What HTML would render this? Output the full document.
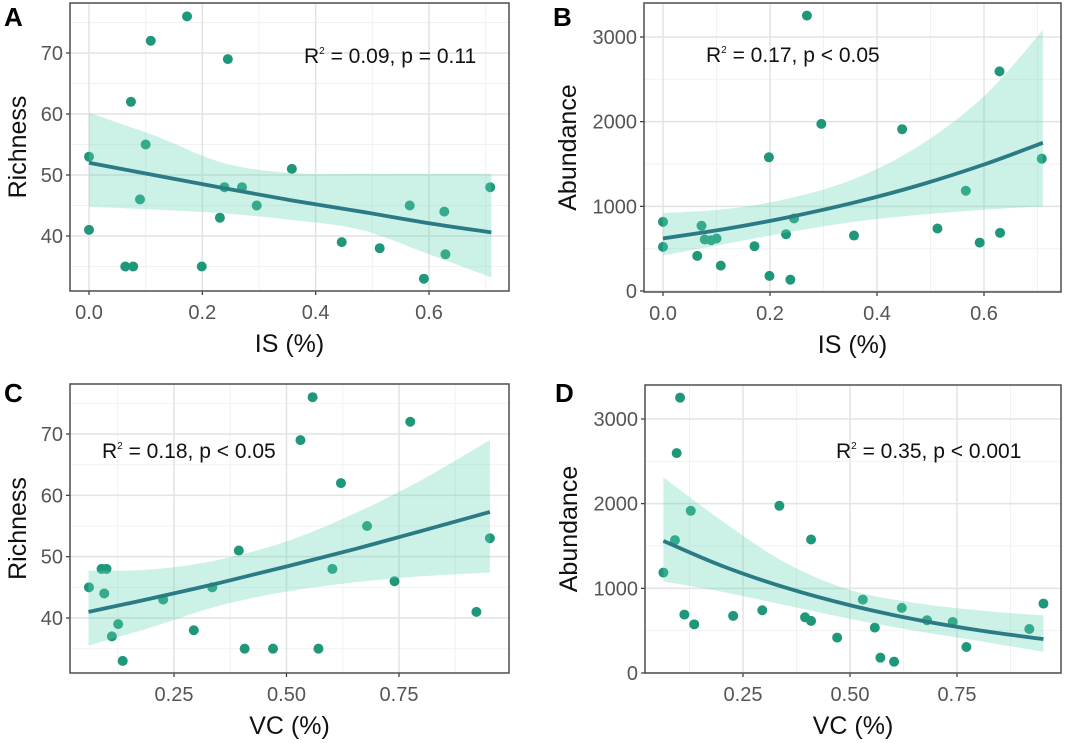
<!DOCTYPE html>
<html><head><meta charset="utf-8"><style>
html,body{margin:0;padding:0;background:#fff;width:1080px;height:743px;overflow:hidden}
svg{display:block;font-family:"Liberation Sans",Arial,sans-serif}
</style></head><body>
<svg id="fig" width="1080" height="743" viewBox="0 0 1080 743"></svg>
<script>
// ---- Panel A data (IS vs Richness)
const aX=[0,0,0.064,0.078,0.074,0.09,0.1,0.109,0.173,0.199,0.231,0.239,0.245,0.27,0.296,0.358,0.446,0.513,0.566,0.591,0.627,0.629,0.708];
const aY=[53,41,35,35,62,46,55,72,76,35,43,48,69,48,45,51,39,38,45,33,44,37,48];
const aFitX=[0,0.12,0.24,0.36,0.48,0.6,0.71];
const aFitY=[52,49.9,47.8,45.8,44.0,42.1,40.6];
const aLo=[44.8,44.3,43.7,42.6,41,37,33.2];
const aHi=[60.2,56.3,51.9,50.3,50.2,50.2,50.2];
// ---- Panel B data (IS vs Abundance)
const bX=[0,0,0.064,0.072,0.078,0.09,0.1,0.108,0.171,0.198,0.199,0.23,0.238,0.245,0.269,0.296,0.357,0.447,0.513,0.566,0.592,0.629,0.63,0.708];
const bY=[817,521,415,770,608,600,620,300,529,1579,178,671,134,857,3253,1974,655,1911,738,1184,572,2594,687,1563];
const bFitX=[0,0.12,0.24,0.36,0.48,0.6,0.71];
const bFitY=[620,736,879,1049,1252,1494,1750];
const bLo=[420,560,700,820,900,960,1000];
const bHi=[920,970,1100,1330,1720,2300,3080];
// ---- Panel C data (VC vs Richness)
const cX=[0.061,0.089,0.1,0.095,0.126,0.112,0.136,0.226,0.294,0.335,0.394,0.407,0.47,0.531,0.558,0.571,0.602,0.621,0.679,0.74,0.775,0.922,0.952];
const cY=[45,48,48,44,39,37,33,43,38,45,51,35,35,69,76,35,48,62,55,46,72,41,53];
const cFitX=[0.06,0.2,0.35,0.5,0.65,0.8,0.952];
const cFitY=[41,43.2,45.7,48.4,51.2,54.2,57.3];
const cLo=[35.5,38.5,42,44.3,45.8,46.8,47.4];
const cHi=[47.7,47.9,49.5,52.5,57,62.5,69];
// ---- Panel D data (VC vs Abundance)
const dX=[0.064,0.091,0.095,0.103,0.128,0.113,0.136,0.227,0.295,0.335,0.395,0.409,0.409,0.47,0.53,0.558,0.571,0.603,0.621,0.68,0.74,0.772,0.919,0.952];
const dY=[1186,1569,2597,3252,1916,690,575,674,741,1975,658,615,1577,418,867,536,181,134,769,623,603,307,520,820];
const dFitX=[0.064,0.2,0.35,0.5,0.65,0.8,0.952];
const dFitY=[1560,1267,1007,800,635,505,400];
const dLo=[1080,960,800,640,500,380,250];
const dHi=[2310,1800,1300,980,830,740,680];
// ---- Tick labels
const isTicks=[0,0.2,0.4,0.6], isTickLabels=["0.0","0.2","0.4","0.6"];
const vcTicks=[0.25,0.5,0.75], vcTickLabels=["0.25","0.50","0.75"];
const richTicks=[40,50,60,70], richTickLabels=["40","50","60","70"];
const abTicks=[0,1000,2000,3000], abTickLabels=["0","1000","2000","3000"];

const NS="http://www.w3.org/2000/svg";
const svg=document.getElementById('fig');
function mk(tag,attrs,parent){const e=document.createElementNS(NS,tag);for(const k in attrs)e.setAttribute(k,attrs[k]);(parent||svg).appendChild(e);return e;}
function lin(d0,d1,r0,r1){return v=>r0+(v-d0)*(r1-r0)/(d1-d0);}
function smooth(pts){let d="M"+pts[0][0]+","+pts[0][1];for(let i=0;i<pts.length-1;i++){const p0=pts[Math.max(0,i-1)],p1=pts[i],p2=pts[i+1],p3=pts[Math.min(pts.length-1,i+2)];const c1=[p1[0]+(p2[0]-p0[0])/6,p1[1]+(p2[1]-p0[1])/6],c2=[p2[0]-(p3[0]-p1[0])/6,p2[1]-(p3[1]-p1[1])/6];d+=" C"+c1+" "+c2+" "+p2;}return d;}

function panel(c){
  const g=mk('g',{});
  
  
  const sx=lin(c.xa[0],c.xa[1],c.xa[2],c.xa[3]);
  const sy=lin(c.ya[0],c.ya[1],c.ya[2],c.ya[3]);
  const L=c.box[0],T=c.box[1],R=c.box[2],B=c.box[3];
  c.xMinor.forEach(v=>{const x=sx(v);if(x>L&&x<R){const l=mk('line',{x1:x,x2:x,y1:T,y2:B,stroke:'#f2f2f2','stroke-width':1},g);}});
  c.yMinor.forEach(v=>{const y=sy(v);if(y>T&&y<B){const l=mk('line',{x1:L,x2:R,y1:y,y2:y,stroke:'#f2f2f2','stroke-width':1},g);}});
  c.xTicks.forEach((v,i)=>{const x=sx(v);
    const l=mk('line',{x1:x,x2:x,y1:T,y2:B,stroke:'#e3e3e3','stroke-width':1.5},g);
    const t=mk('line',{x1:x,x2:x,y1:B,y2:B+4,stroke:'#333','stroke-width':1.2},g);
    const tx=mk('text',{x:x,y:B+28,'text-anchor':'middle','font-size':20,fill:'#555'},g);tx.textContent=c.xLabels[i];
    });
  c.yTicks.forEach((v,i)=>{const y=sy(v);
    const l=mk('line',{x1:L,x2:R,y1:y,y2:y,stroke:'#e3e3e3','stroke-width':1.5},g);
    const t=mk('line',{x1:L-4,x2:L,y1:y,y2:y,stroke:'#333','stroke-width':1.2},g);
    const tx=mk('text',{x:L-7,y:y+7,'text-anchor':'end','font-size':20,fill:'#555'},g);tx.textContent=c.yLabels[i];
    });
  c.px.forEach((v,i)=>{const p=mk('circle',{cx:sx(v),cy:sy(c.py[i]),r:5,fill:'#1f977a'},g);
    });
  const up=c.fx.map((v,i)=>[sx(v),sy(c.hi[i])]), lo=c.fx.map((v,i)=>[sx(v),sy(c.lo[i])]).reverse();
  let dr=smooth(up)+" L"+lo[0]+" "+smooth(lo).slice(1)+" Z";
  const rb=mk('path',{d:dr,fill:'#63d6b6','fill-opacity':0.33,stroke:'none'},g);
  
  const ln=mk('path',{d:smooth(c.fx.map((v,i)=>[sx(v),sy(c.fy[i])])),fill:'none',stroke:'#2b7b84','stroke-width':3.8},g);
  
  const bx=mk('rect',{x:L,y:T,width:R-L,height:B-T,fill:'none',stroke:'#4d4d4d','stroke-width':1.5},g);
  
  const xt=mk('text',{x:(L+R)/2,y:B+61,'text-anchor':'middle','font-size':25,fill:'#111'},g);xt.textContent=c.xTitle;
  
  const yx=c.box[0]-c.yOff,yy=(T+B)/2;
  const yt=mk('text',{x:yx,y:yy,'text-anchor':'middle','font-size':25,fill:'#111',transform:`rotate(-90 ${yx} ${yy})`},g);yt.textContent=c.yTitle;
  
  const lt=mk('text',{x:c.letter[1],y:c.letter[2],'font-size':26,'font-weight':'bold',fill:'#000'},g);lt.textContent=c.letter[0];
  
  const an=mk('text',{x:c.ann[0],y:c.ann[1],'font-size':21,fill:'#111'},g);
  
  an.innerHTML='R<tspan font-size="10" dy="-9">2</tspan><tspan dy="9"> = '+c.ann[2]+'</tspan>';
}
panel({name:'panel-a',box:[70,3,509,291],xa:[0,0.6,89,429],ya:[40,70,236,53],xTicks:isTicks,xLabels:isTickLabels,yTicks:richTicks,yLabels:richTickLabels,yOff:44,
  xMinor:[0.1,0.3,0.5,0.7],yMinor:[35,45,55,65,75],px:aX,py:aY,fx:aFitX,fy:aFitY,lo:aLo,hi:aHi,xTitle:'IS (%)',yTitle:'Richness',letter:['A',4,26],ann:[304,63,'0.09, p = 0.11']});
panel({name:'panel-b',box:[644,3,1061,292],xa:[0,0.6,663,984],ya:[0,3000,291,37],xTicks:isTicks,xLabels:isTickLabels,yTicks:abTicks,yLabels:abTickLabels,yOff:68,
  xMinor:[0.1,0.3,0.5,0.7],yMinor:[500,1500,2500],px:bX,py:bY,fx:bFitX,fy:bFitY,lo:bLo,hi:bHi,xTitle:'IS (%)',yTitle:'Abundance',letter:['B',553,26],ann:[706,62,'0.17, p < 0.05']});
panel({name:'panel-c',box:[70,384,509,673],xa:[0.25,0.75,174,399],ya:[40,70,618,434],xTicks:vcTicks,xLabels:vcTickLabels,yTicks:richTicks,yLabels:richTickLabels,yOff:44,
  xMinor:[0.125,0.375,0.625,0.875],yMinor:[35,45,55,65,75],px:cX,py:cY,fx:cFitX,fy:cFitY,lo:cLo,hi:cHi,xTitle:'VC (%)',yTitle:'Richness',letter:['C',4,402],ann:[102,458,'0.18, p < 0.05']});
panel({name:'panel-d',box:[645,385,1061,673],xa:[0.25,0.75,743,957],ya:[0,3000,673,419],xTicks:vcTicks,xLabels:vcTickLabels,yTicks:abTicks,yLabels:abTickLabels,yOff:68,
  xMinor:[0.125,0.375,0.625,0.875],yMinor:[500,1500,2500],px:dX,py:dY,fx:dFitX,fy:dFitY,lo:dLo,hi:dHi,xTitle:'VC (%)',yTitle:'Abundance',letter:['D',555,402],ann:[836,458,'0.35, p < 0.001']});
</script>
</body></html>
